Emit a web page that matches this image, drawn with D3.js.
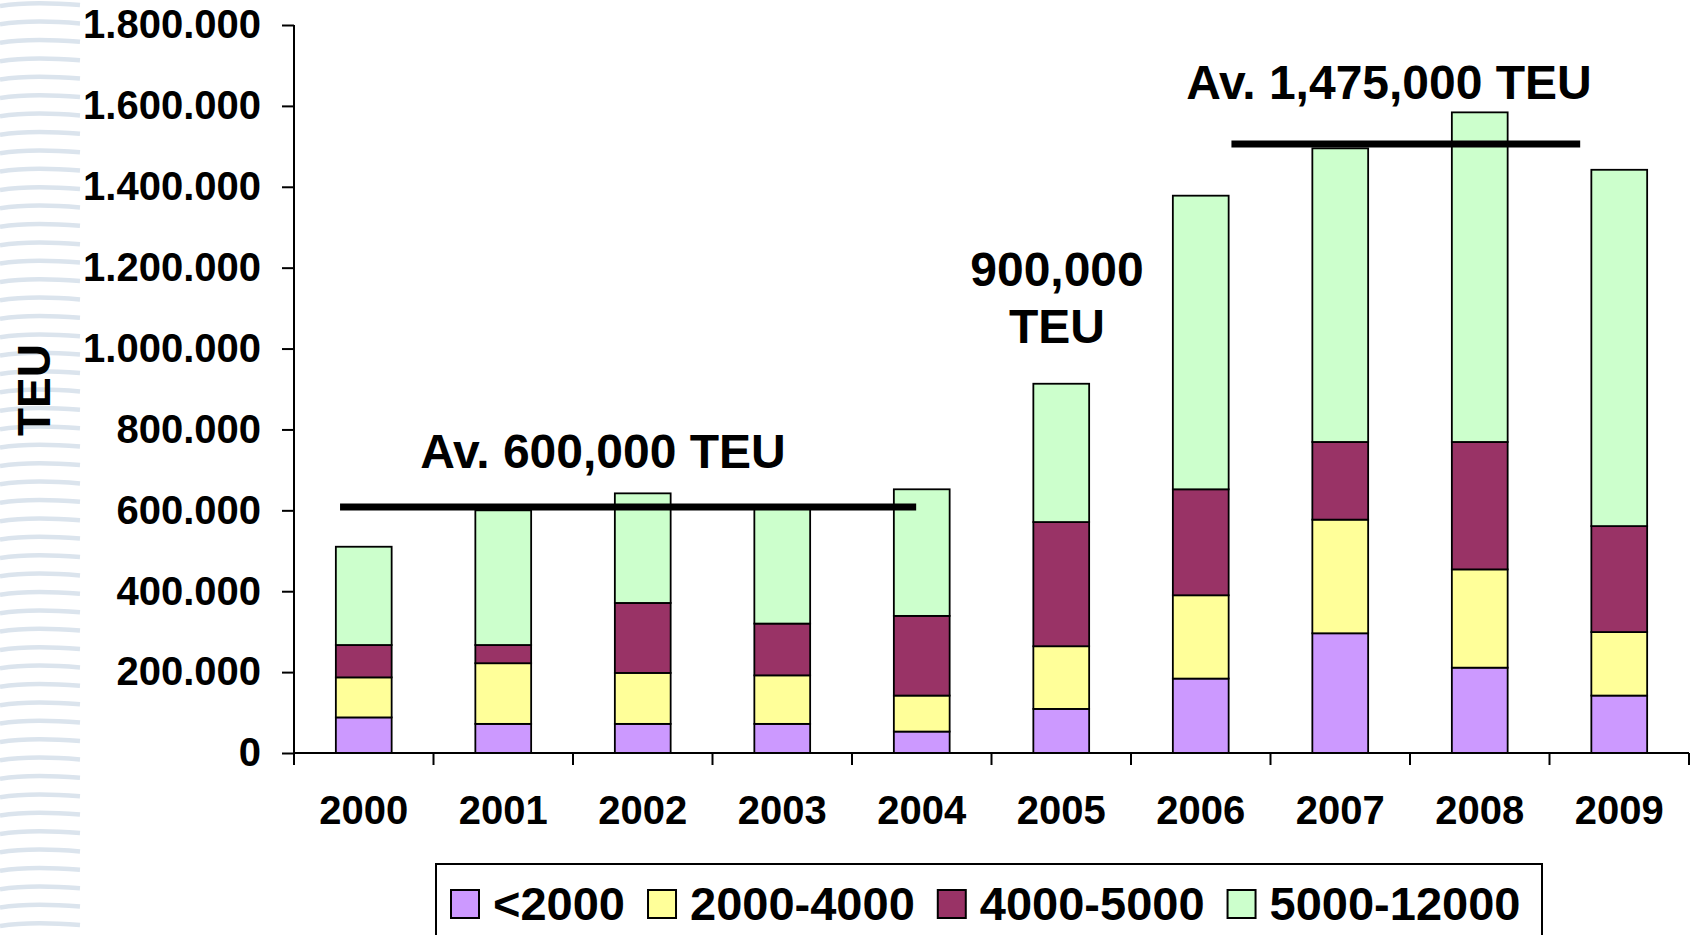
<!DOCTYPE html>
<html>
<head>
<meta charset="utf-8">
<script src="https://cdn.jsdelivr.net/npm/d3@7"></script>
<style>
  html, body { margin: 0; padding: 0; background: #fff; }
  svg { display: block; font-family: "Liberation Sans", Arial, sans-serif; font-weight: bold; }
</style>
</head>
<body>
<svg id="chart" width="1694" height="935"></svg>
<script>
// data (TEU)
const years = ['2000', '2001', '2002', '2003', '2004', '2005', '2006', '2007', '2008', '2009'];
const seriesNames = ['<2000', '2000-4000', '4000-5000', '5000-12000'];
const under2000 = [88000, 72000, 72000, 72000, 53000, 109000, 184000, 296000, 211000, 142000];
const from2000to4000 = [99000, 150000, 126000, 120000, 89000, 155000, 206000, 281000, 243000, 157000];
const from4000to5000 = [80000, 45000, 173000, 128000, 197000, 307000, 262000, 192000, 315000, 262000];
const from5000to12000 = [243000, 333000, 271000, 283000, 313000, 342000, 726000, 726000, 815000, 881000];
const yTicks = [0, 200000, 400000, 600000, 800000, 1000000, 1200000, 1400000, 1600000, 1800000];
const avgValues = [608000, 1506000];
const colors = ['#CC99FF', '#FFFF99', '#993366', '#CCFFCC'];

const svg = d3.select('#chart');
const plotLeft = 294, plotRight = 1689, plotTop = 25, plotBottom = 753;

// background stripes on the left edge
const stripes = svg.append('g').attr('class', 'stripes');
for (let sy = 4; sy < 935; sy += 18.4) {
  stripes.append('path')
    .attr('d', `M0,${sy + 2} Q30,${sy - 3} 80,${sy + 1}`)
    .attr('fill', 'none')
    .attr('stroke', '#dbe4ed')
    .attr('stroke-width', 4.5);
}

// build stacked table
const table = years.map((yr, i) => ({
  year: yr,
  '<2000': under2000[i],
  '2000-4000': from2000to4000[i],
  '4000-5000': from4000to5000[i],
  '5000-12000': from5000to12000[i],
}));
const stacked = d3.stack().keys(seriesNames)(table);

const x = d3.scaleBand().domain(years).range([plotLeft, plotRight]).padding(0);
const y = d3.scaleLinear().domain([0, 1800000]).range([plotBottom, plotTop]);
const barW = x.bandwidth() * 0.4;

const fmt = d3.formatLocale({ decimal: ',', thousands: '.', grouping: [3], currency: ['', ''] }).format(',d');

// bars
const dataContainer = svg.append('g').attr('class', 'dataContainer');
dataContainer.selectAll('g.series')
  .data(stacked)
  .enter()
  .append('g')
  .attr('class', 'series')
  .attr('fill', (d, i) => colors[i])
  .selectAll('rect')
  .data((d) => d)
  .enter()
  .append('rect')
  .attr('x', (d) => x(d.data.year) + (x.bandwidth() - barW) / 2)
  .attr('width', barW)
  .attr('y', (d) => y(d[1]))
  .attr('height', (d) => y(d[0]) - y(d[1]))
  .attr('stroke', '#000')
  .attr('stroke-width', 1.8);

// y axis
const yAxis = d3.axisLeft(y).tickValues(yTicks).tickFormat(fmt)
  .tickSizeInner(12).tickSizeOuter(0).tickPadding(21);
const yAxisContainer = svg.append('g').attr('transform', `translate(${plotLeft},0)`).call(yAxis);
yAxisContainer.select('.domain').attr('d', `M0,${plotTop}V${plotBottom + 12}`);
yAxisContainer.selectAll('.tick text').attr('font-size', 40).attr('fill', '#000')
  .attr('font-family', '"Liberation Sans", Arial, sans-serif').attr('font-weight', 'bold');
yAxisContainer.selectAll('line, path').attr('stroke', '#000').attr('stroke-width', 2);

// x axis, ticks at band boundaries
const xAxisContainer = svg.append('g').attr('transform', `translate(0,${plotBottom})`);
xAxisContainer.append('path')
  .attr('d', `M${plotLeft},0H${plotRight}`)
  .attr('stroke', '#000').attr('stroke-width', 2);
const bounds = years.map((d) => x(d)).concat([x(years[years.length - 1]) + x.bandwidth()]);
xAxisContainer.selectAll('line.tick')
  .data(bounds)
  .enter()
  .append('line')
  .attr('x1', (d) => d).attr('x2', (d) => d)
  .attr('y1', 0).attr('y2', 12)
  .attr('stroke', '#000').attr('stroke-width', 2);
xAxisContainer.selectAll('text')
  .data(years)
  .enter()
  .append('text')
  .attr('x', (d) => x(d) + x.bandwidth() / 2)
  .attr('y', 71)
  .attr('text-anchor', 'middle')
  .attr('font-size', 40)
  .text((d) => d);

// y axis title
svg.append('text')
  .attr('transform', 'translate(50,390) rotate(-90)')
  .attr('text-anchor', 'middle')
  .attr('font-size', 46)
  .text('TEU');

// average lines and annotations
const annot = svg.append('g').attr('class', 'annotations');
const lineAt = (yr, frac) => x(yr) + x.bandwidth() * frac;
const avgLines = [
  { x1: lineAt('2000', 0.33), x2: lineAt('2004', 0.46), v: avgValues[0] },
  { x1: lineAt('2006', 0.72), x2: lineAt('2009', 0.22), v: avgValues[1] },
];
annot.selectAll('line')
  .data(avgLines)
  .enter()
  .append('line')
  .attr('x1', (d) => d.x1).attr('x2', (d) => d.x2)
  .attr('y1', (d) => y(d.v)).attr('y2', (d) => y(d.v))
  .attr('stroke', '#000').attr('stroke-width', 7);

annot.append('text').attr('x', 603).attr('y', y(avgValues[0]) - 39)
  .attr('text-anchor', 'middle').attr('font-size', 48).text('Av. 600,000 TEU');
annot.append('text').attr('x', 1389).attr('y', y(avgValues[1]) - 45)
  .attr('text-anchor', 'middle').attr('font-size', 48).text('Av. 1,475,000 TEU');
annot.append('text').attr('x', 1057).attr('y', 286)
  .attr('text-anchor', 'middle').attr('font-size', 48).text('900,000');
annot.append('text').attr('x', 1057).attr('y', 343)
  .attr('text-anchor', 'middle').attr('font-size', 48).text('TEU');

// legend
const legend = svg.append('g').attr('class', 'legend');
legend.append('rect')
  .attr('x', 436).attr('y', 864).attr('width', 1106).attr('height', 100)
  .attr('fill', '#fff').attr('stroke', '#000').attr('stroke-width', 2);
let lx = 451;
seriesNames.forEach((name, i) => {
  legend.append('rect')
    .attr('x', lx).attr('y', 890).attr('width', 28).attr('height', 28)
    .attr('fill', colors[i]).attr('stroke', '#000').attr('stroke-width', 2);
  const t = legend.append('text')
    .attr('x', lx + 42).attr('y', 920)
    .attr('font-size', 47)
    .text(name);
  lx += 42 + t.node().getComputedTextLength() + 23;
});
</script>
</body>
</html>
